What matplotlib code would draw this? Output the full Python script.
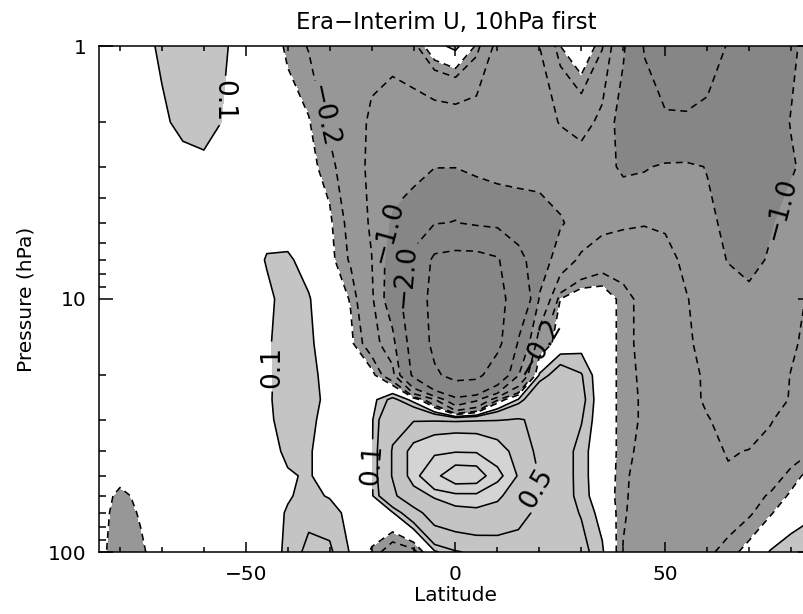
import numpy as np
import matplotlib
matplotlib.use("Agg")
import matplotlib.pyplot as plt
from matplotlib.ticker import FixedLocator, FixedFormatter, NullFormatter

# Latitude grid (degrees) and pressure levels (hPa)
LAT = [-85, -80, -75, -70, -65, -60, -55, -50, -45, -40, -35, -30, -25, -20, -15,
       -10, -5, 0, 5, 10, 15, 20, 25, 30, 35, 40, 45, 50, 55, 60, 65, 70, 75, 80, 85]
PRESSURE = [1, 2, 3, 5, 7, 10, 15, 20, 25, 30, 40, 50, 60, 70, 100]

# Zonal wind field, one row per pressure level (same order as PRESSURE)
U_1 = [0.0, 0.02, 0.06, 0.12, 0.16, 0.16, 0.11, 0.05, -0.03, -0.12, -0.21, -0.3, -0.35, -0.4, -0.4,
       -0.25, 0.04, 0.15, -0.12, -0.6, -0.7, -0.5, -0.1, 0.05, -0.18, -0.9, -2.05, -2.5, -2.6, -2.4,
       -1.95, -1.7, -1.4, -1.1, -0.8]
U_2 = [0.0, 0.0, 0.03, 0.08, 0.13, 0.15, 0.09, 0.03, -0.02, -0.05, -0.09, -0.24, -0.35, -0.55, -0.65,
       -0.7, -0.72, -0.7, -0.7, -0.7, -0.7, -0.65, -0.48, -0.35, -0.6, -1.3, -1.7, -1.9, -1.9, -1.8,
       -1.6, -1.4, -1.25, -0.98, -0.8]
U_3 = [0.0, 0.0, 0.0, 0.03, 0.06, 0.07, 0.05, 0.02, 0.0, -0.03, -0.07, -0.14, -0.35, -0.57, -0.7,
       -0.8, -0.98, -0.98, -0.85, -0.78, -0.75, -0.75, -0.72, -0.7, -0.8, -1.1, -1.05, -0.92, -0.9, -1.02,
       -1.2, -1.25, -1.2, -1.05, -0.85]
U_5 = [0.0, 0.0, 0.0, 0.0, 0.02, 0.03, 0.03, 0.03, 0.05, 0.03, -0.04, -0.08, -0.25, -0.55, -1.1,
       -1.35, -1.9, -2.05, -1.7, -1.5, -1.4, -1.3, -1.05, -0.8, -0.6, -0.55, -0.52, -0.55, -0.7, -0.9,
       -1.1, -1.2, -1.05, -0.85, -0.7]
U_7 = [0.0, 0.0, 0.0, 0.0, 0.0, 0.0, 0.0, 0.02, 0.11, 0.12, 0.05, -0.06, -0.22, -0.49, -1.3,
       -2.3, -5.6, -6.0, -6.0, -5.3, -2.4, -1.3, -0.75, -0.42, -0.3, -0.28, -0.3, -0.38, -0.58, -0.8,
       -1.02, -1.15, -0.95, -0.7, -0.5]
U_10 = [0.0, 0.0, 0.0, 0.0, 0.0, 0.0, 0.0, 0.02, 0.07, 0.15, 0.11, 0.0, -0.11, -0.42, -1.4,
        -2.8, -6.2, -7.0, -7.0, -6.0, -3.5, -0.95, -0.1, 0.02, 0.0, -0.15, -0.25, -0.35, -0.48, -0.65,
        -0.8, -0.88, -0.8, -0.6, -0.45]
U_15 = [0.0, 0.0, 0.0, 0.0, 0.0, 0.0, 0.0, 0.03, 0.08, 0.17, 0.12, 0.04, -0.07, -0.3, -0.8,
        -2.5, -5.8, -7.5, -7.5, -5.8, -1.8, -0.25, 0.0, 0.05, 0.0, -0.15, -0.25, -0.35, -0.45, -0.6,
        -0.72, -0.8, -0.72, -0.55, -0.4]
U_20 = [0.0, 0.0, 0.0, 0.0, 0.0, 0.0, 0.0, 0.03, 0.08, 0.15, 0.14, 0.05, 0.0, -0.05, -0.35,
        -2.2, -4.5, -6.0, -5.8, -3.2, -1.02, 0.12, 0.3, 0.21, 0.0, -0.15, -0.23, -0.3, -0.4, -0.55,
        -0.65, -0.7, -0.65, -0.49, -0.35]
U_25 = [0.0, 0.0, 0.0, 0.0, 0.0, 0.0, 0.0, 0.03, 0.08, 0.16, 0.15, 0.06, 0.03, 0.05, 0.25,
        0.05, -0.45, -1.6, -1.1, -0.22, 0.12, 0.42, 0.42, 0.25, 0.0, -0.15, -0.22, -0.3, -0.38, -0.55,
        -0.68, -0.7, -0.62, -0.48, -0.35]
U_30 = [0.0, 0.0, 0.0, 0.0, 0.0, 0.0, 0.0, 0.03, 0.07, 0.16, 0.13, 0.05, 0.02, 0.08, 0.42,
        0.46, 0.45, 0.42, 0.45, 0.48, 0.52, 0.45, 0.4, 0.21, 0.0, -0.15, -0.22, -0.28, -0.35, -0.48,
        -0.6, -0.65, -0.52, -0.4, -0.3]
U_40 = [0.0, -0.02, -0.01, 0.0, 0.0, 0.0, 0.0, 0.03, 0.06, 0.12, 0.11, 0.05, 0.02, 0.08, 0.52,
        1.2, 1.6, 1.8, 1.7, 1.3, 0.75, 0.4, 0.28, 0.15, 0.0, -0.15, -0.25, -0.3, -0.35, -0.42,
        -0.52, -0.49, -0.42, -0.3, -0.2]
U_50 = [0.0, -0.03, -0.02, 0.0, 0.0, 0.0, 0.0, 0.02, 0.05, 0.09, 0.11, 0.05, 0.02, 0.08, 0.52,
        1.2, 4.0, 7.5, 7.2, 2.4, 0.9, 0.48, 0.28, 0.15, 0.0, -0.16, -0.3, -0.35, -0.4, -0.45,
        -0.47, -0.42, -0.3, -0.15, -0.05]
U_60 = [0.0, -0.15, -0.05, 0.0, 0.0, 0.0, 0.0, 0.02, 0.05, 0.09, 0.13, 0.09, 0.03, 0.08, 0.42,
        0.8, 1.05, 1.3, 1.35, 1.1, 0.7, 0.45, 0.27, 0.16, 0.0, -0.17, -0.3, -0.35, -0.38, -0.37,
        -0.33, -0.27, -0.18, -0.08, 0.0]
U_70 = [-0.02, -0.18, -0.08, 0.0, 0.0, 0.0, 0.0, 0.02, 0.05, 0.11, 0.16, 0.15, 0.06, 0.03, 0.09,
        0.35, 0.7, 0.8, 0.85, 0.8, 0.65, 0.4, 0.27, 0.19, 0.05, -0.18, -0.3, -0.33, -0.34, -0.32,
        -0.28, -0.22, -0.12, 0.02, 0.08]
U_100 = [-0.05, -0.19, -0.13, 0.0, 0.0, 0.0, 0.0, 0.02, 0.05, 0.12, 0.24, 0.22, 0.09, -0.12, -0.3,
         -0.25, 0.08, 0.18, 0.24, 0.28, 0.3, 0.3, 0.28, 0.25, 0.12, -0.21, -0.3, -0.3, -0.28, -0.23,
         -0.15, -0.05, 0.11, 0.17, 0.19]

U_ROWS = [U_1, U_2, U_3, U_5, U_7, U_10, U_15, U_20, U_25, U_30, U_40, U_50, U_60, U_70, U_100]

LINE_LEVELS = [-5.0, -2.0, -1.0, -0.5, -0.2, -0.1, 0.1, 0.2, 0.5, 1.0, 2.0, 5.0]
FILL_LEVELS = [-50.0, -1.0, -0.1, 0.1, 1.0, 50.0]
FILL_COLORS = ["#868686", "#979797", "#ffffff", "#c4c4c4", "#d4d4d4"]

# Contour labels: level, latitude, pressure and text angle
LABEL_LEVELS = [0.1, -0.2, -1.0, -2.0, -0.2, -1.0, 0.1, 0.1, 0.5]
LABEL_LATS = [-54.5, -29.0, -17.5, -10.5, 19.0, 74.0, -44.0, -19.5, 16.5]
LABEL_PRESSURES = [1.65, 1.85, 5.4, 8.2, 15.5, 4.2, 18.5, 45.0, 55.0]
LABEL_ANGLES = [-90, -78, 75, 85, 60, 75, 90, 85, 60]

TITLE = "Era\u2212Interim U, 10hPa first"

lat = np.asarray(LAT, dtype=float)
logp = np.log10(np.asarray(PRESSURE, dtype=float))
u = np.asarray(U_ROWS, dtype=float)
LAT2, LOGP2 = np.meshgrid(lat, logp)

plt.rcParams["font.family"] = ["DejaVu Sans"]

fig = plt.figure(figsize=(8.04, 6.14), dpi=100)
ax = fig.add_axes([99 / 804, (614 - 552) / 614, (812 - 99) / 804, (552 - 46) / 614])

ax.contourf(LAT2, LOGP2, u, levels=FILL_LEVELS, colors=FILL_COLORS)


def label_text(v):
    return f"{v:.1f}".replace("-", "\u2212")


# One contour set per level so each can carry its own hand-placed labels
for lev in LINE_LEVELS:
    style = (0, (4.3, 3.1)) if lev < 0 else "solid"
    cs = ax.contour(LAT2, LOGP2, u, levels=[lev], colors="black",
                    linewidths=1.15, linestyles=[style])
    picks = [(la, np.log10(pr), ang) for lv, la, pr, ang in
             zip(LABEL_LEVELS, LABEL_LATS, LABEL_PRESSURES, LABEL_ANGLES) if lv == lev]
    if picks:
        texts = ax.clabel(cs, manual=[(a, b) for a, b, _ in picks], inline=True,
                          inline_spacing=4, fmt=label_text, fontsize=19)
        for txt, (_, _, ang) in zip(texts, picks):
            txt.set_rotation(ang)

ax.set_xlim(-85, 85)
ax.set_ylim(2.0, 0.0)

ax.xaxis.set_major_locator(FixedLocator([-50, 0, 50]))
ax.xaxis.set_major_formatter(FixedFormatter(["\u221250", "0", "50"]))
ax.xaxis.set_minor_locator(FixedLocator(list(range(-80, 81, 10))))

ax.yaxis.set_major_locator(FixedLocator([0.0, 1.0, 2.0]))
ax.yaxis.set_major_formatter(FixedFormatter(["1", "10", "100"]))
yminor = [np.log10(m * d) for d in (1, 10) for m in range(2, 10)]
ax.yaxis.set_minor_locator(FixedLocator(yminor))
ax.yaxis.set_minor_formatter(NullFormatter())

ax.tick_params(axis="both", which="both", direction="in", top=True, right=True,
               width=1.1, colors="black", labelsize=14.5)
ax.tick_params(axis="x", which="major", length=7.2, pad=9)
ax.tick_params(axis="x", which="minor", length=3.6)
ax.tick_params(axis="y", which="major", length=10, pad=9)
ax.tick_params(axis="y", which="minor", length=5)
for sp in ax.spines.values():
    sp.set_linewidth(1.1)

ax.set_xlabel("Latitude", fontsize=14.5, labelpad=2)
ax.set_ylabel("Pressure (hPa)", fontsize=14.5, labelpad=9)
fig.text(446 / 804, 1 - 22 / 614, TITLE, ha="center", va="center", fontsize=16.5)

fig.savefig("out.png", dpi=100)
